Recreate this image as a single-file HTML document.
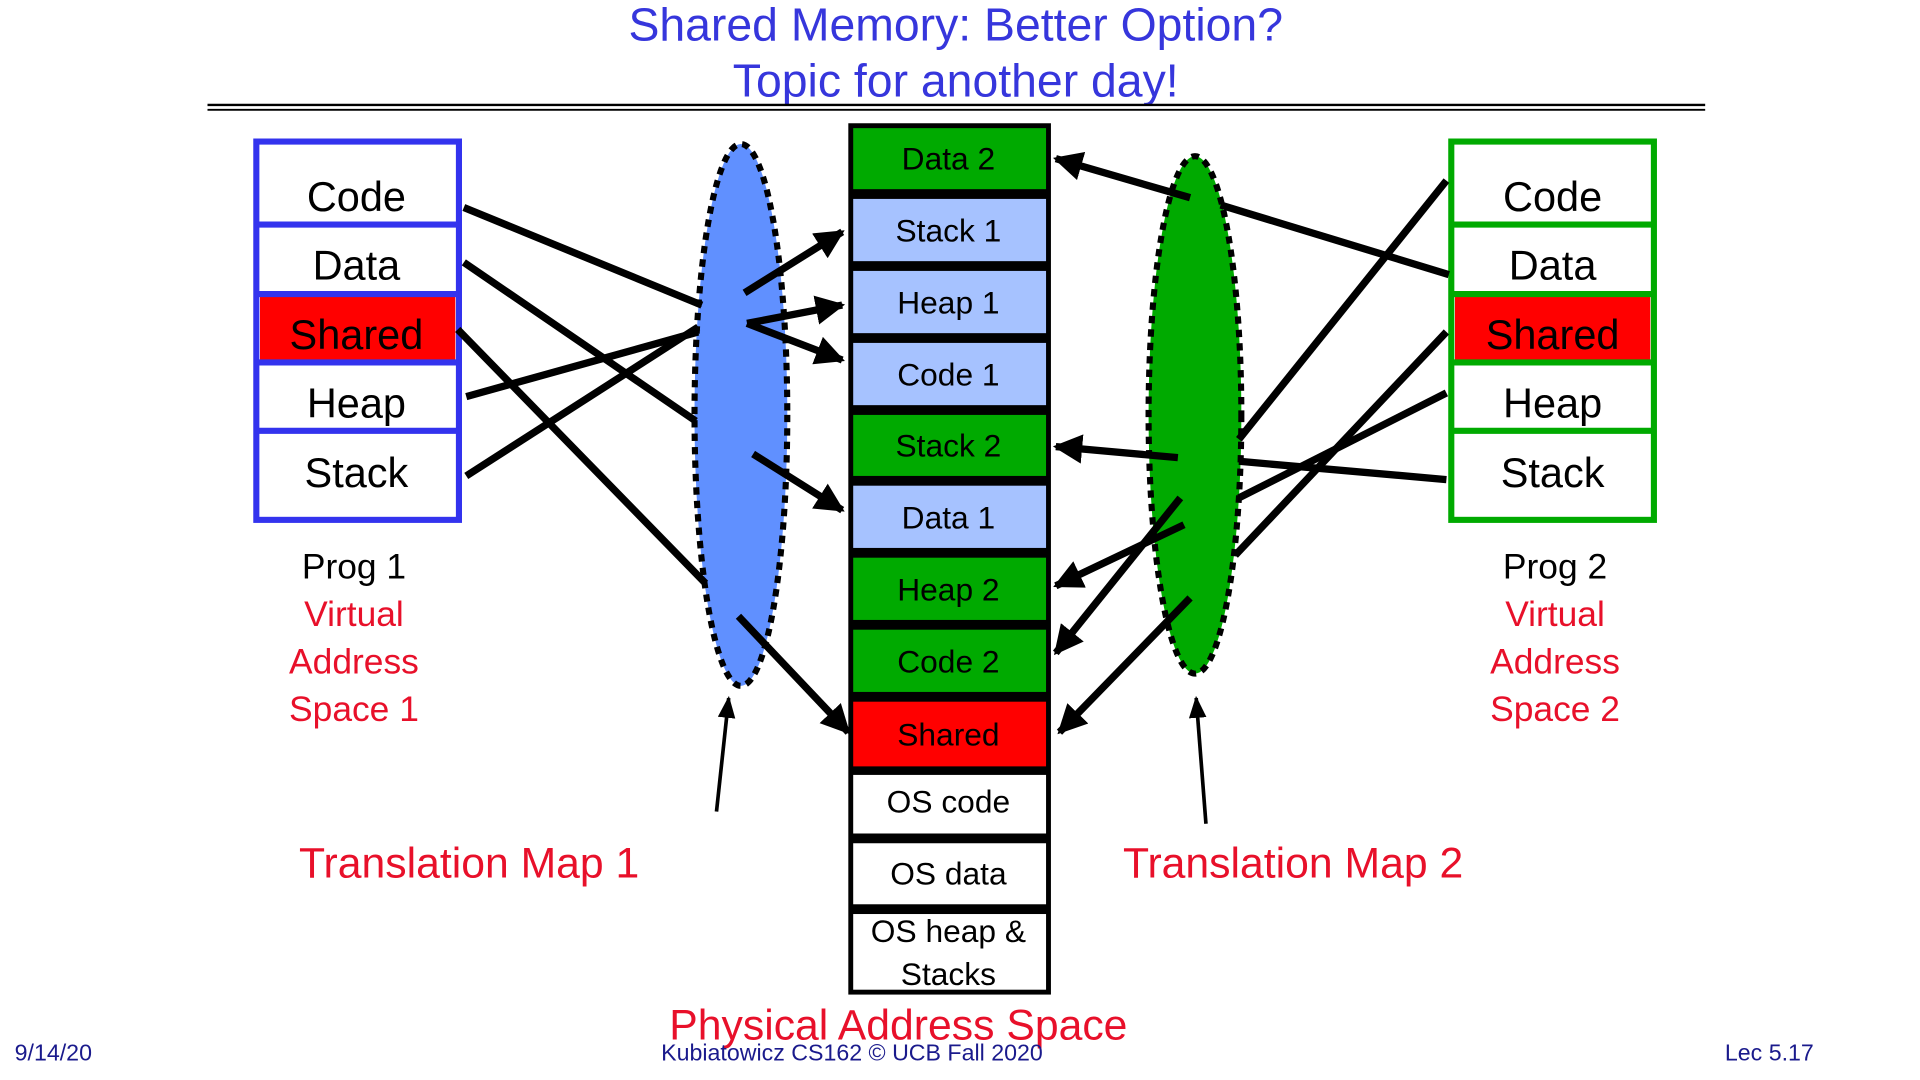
<!DOCTYPE html>
<html><head><meta charset="utf-8"><style>
html,body{margin:0;padding:0;background:#fff;width:1920px;height:1080px;overflow:hidden}
svg{display:block}
text{font-family:"Liberation Sans",sans-serif}
</style></head><body>
<svg width="1920" height="1080" viewBox="0 0 1573 885" preserveAspectRatio="none" xmlns="http://www.w3.org/2000/svg">
<defs>
<marker id="ah" viewBox="0 0 10 10" refX="9" refY="5" markerWidth="4" markerHeight="4" orient="auto" markerUnits="strokeWidth"><path d="M0,0 L10,5 L0,10 z" fill="#000"/></marker>
<marker id="ah2" viewBox="0 0 10 10" refX="9" refY="5" markerWidth="6" markerHeight="6" orient="auto" markerUnits="strokeWidth"><path d="M0,1 L10,5 L0,9 z" fill="#000"/></marker>
</defs>
<g fill="#3636dc" font-size="38" text-anchor="middle">
<text x="783" y="33">Shared Memory: Better Option?</text>
<text x="783" y="79">Topic for another day!</text>
</g>
<line x1="170" y1="86" x2="1397" y2="86" stroke="#000" stroke-width="2"/>
<line x1="170" y1="90" x2="1397" y2="90" stroke="#000" stroke-width="1.5"/>

<ellipse cx="607" cy="340" rx="38" ry="222" fill="#6090ff" stroke="#000" stroke-width="5" stroke-dasharray="6,5"/>
<ellipse cx="979" cy="340" rx="38" ry="212" fill="#00aa00" stroke="#000" stroke-width="5" stroke-dasharray="6,5"/>

<g>
<rect x="210" y="116" width="166" height="310" fill="#fff" stroke="#3333ee" stroke-width="5"/>
<rect x="213" y="243" width="160" height="52" fill="#ff0000"/>
<g stroke="#3333ee" stroke-width="5"><line x1="210" y1="184" x2="376" y2="184"/><line x1="210" y1="241" x2="376" y2="241"/><line x1="210" y1="297" x2="376" y2="297"/><line x1="210" y1="353" x2="376" y2="353"/></g>
<g font-size="34" text-anchor="middle" fill="#000">
<text x="292" y="173">Code</text><text x="292" y="229">Data</text><text x="292" y="286">Shared</text><text x="292" y="342">Heap</text><text x="292" y="399">Stack</text>
</g>
</g>
<g>
<rect x="1189" y="116" width="166" height="310" fill="#fff" stroke="#00aa00" stroke-width="5"/>
<rect x="1192" y="243" width="160" height="52" fill="#ff0000"/>
<g stroke="#00aa00" stroke-width="5"><line x1="1189" y1="184" x2="1355" y2="184"/><line x1="1189" y1="241" x2="1355" y2="241"/><line x1="1189" y1="297" x2="1355" y2="297"/><line x1="1189" y1="353" x2="1355" y2="353"/></g>
<g font-size="34" text-anchor="middle" fill="#000">
<text x="1272" y="173">Code</text><text x="1272" y="229">Data</text><text x="1272" y="286">Shared</text><text x="1272" y="342">Heap</text><text x="1272" y="399">Stack</text>
</g>
</g>

<g font-size="29" text-anchor="middle">
<text x="290" y="474" fill="#000">Prog 1</text>
<text x="290" y="513" fill="#e8102a">Virtual</text>
<text x="290" y="552" fill="#e8102a">Address</text>
<text x="290" y="591" fill="#e8102a">Space 1</text>
<text x="1274" y="474" fill="#000">Prog 2</text>
<text x="1274" y="513" fill="#e8102a">Virtual</text>
<text x="1274" y="552" fill="#e8102a">Address</text>
<text x="1274" y="591" fill="#e8102a">Space 2</text>
</g>
<g font-size="35" fill="#e8102a">
<text x="245" y="719">Translation Map 1</text>
<text x="920" y="719">Translation Map 2</text>
<text x="736" y="852" text-anchor="middle">Physical Address Space</text>
</g>

<rect x="695" y="101" width="166" height="714" fill="#000"/>
<g>
<rect x="699" y="105" width="158" height="50" fill="#00aa00"/>
<rect x="699" y="163" width="158" height="51" fill="#a6c2ff"/>
<rect x="699" y="222" width="158" height="51" fill="#a6c2ff"/>
<rect x="699" y="281" width="158" height="51" fill="#a6c2ff"/>
<rect x="699" y="340" width="158" height="50" fill="#00aa00"/>
<rect x="699" y="398" width="158" height="51" fill="#a6c2ff"/>
<rect x="699" y="457" width="158" height="51" fill="#00aa00"/>
<rect x="699" y="516" width="158" height="51" fill="#00aa00"/>
<rect x="699" y="575" width="158" height="53" fill="#ff0000"/>
<rect x="699" y="635" width="158" height="48" fill="#fff"/>
<rect x="699" y="691" width="158" height="50" fill="#fff"/>
<rect x="699" y="749" width="158" height="62" fill="#fff"/>
</g>
<g font-size="26" text-anchor="middle" fill="#000">
<text x="777" y="139">Data 2</text><text x="777" y="198">Stack 1</text><text x="777" y="257">Heap 1</text><text x="777" y="316">Code 1</text>
<text x="777" y="374">Stack 2</text><text x="777" y="433">Data 1</text><text x="777" y="492">Heap 2</text><text x="777" y="551">Code 2</text>
<text x="777" y="611">Shared</text><text x="777" y="666">OS code</text><text x="777" y="725">OS data</text>
<text x="777" y="772">OS heap &amp;</text><text x="777" y="807">Stacks</text>
</g>

<g stroke="#000" stroke-width="6" fill="none">
<line x1="380" y1="170" x2="575" y2="250"/>
<line x1="380" y1="215" x2="570" y2="345"/>
<line x1="375" y1="270" x2="578" y2="478"/>
<line x1="382" y1="325" x2="572" y2="272"/>
<line x1="382" y1="390" x2="572" y2="268"/>
<line x1="610" y1="240" x2="690" y2="190" marker-end="url(#ah)"/>
<line x1="612" y1="265" x2="690" y2="250" marker-end="url(#ah)"/>
<line x1="612" y1="265" x2="690" y2="295" marker-end="url(#ah)"/>
<line x1="617" y1="372" x2="690" y2="418" marker-end="url(#ah)"/>
<line x1="605" y1="505" x2="695" y2="600" marker-end="url(#ah)"/>
<line x1="975" y1="162" x2="865" y2="130" marker-end="url(#ah)"/>
<line x1="1000" y1="168" x2="1187" y2="225"/>
<line x1="1185" y1="148" x2="1015" y2="360"/>
<line x1="1185" y1="393" x2="1015" y2="378"/>
<line x1="965" y1="375" x2="865" y2="366" marker-end="url(#ah)"/>
<line x1="1185" y1="322" x2="1015" y2="408"/>
<line x1="1185" y1="272" x2="1012" y2="455"/>
<line x1="970" y1="430" x2="865" y2="480" marker-end="url(#ah)"/>
<line x1="967" y1="408" x2="865" y2="535" marker-end="url(#ah)"/>
<line x1="975" y1="490" x2="868" y2="600" marker-end="url(#ah)"/>
</g>
<g stroke="#000" stroke-width="3">
<line x1="587" y1="665" x2="597" y2="572" marker-end="url(#ah2)"/>
<line x1="988" y1="675" x2="980" y2="572" marker-end="url(#ah2)"/>
</g>

<g font-size="19" fill="#1a1a8c">
<text x="12" y="869">9/14/20</text>
<text x="698" y="869" text-anchor="middle">Kubiatowicz CS162 © UCB Fall 2020</text>
<text x="1486" y="869" text-anchor="end">Lec 5.17</text>
</g>
</svg>
</body></html>
